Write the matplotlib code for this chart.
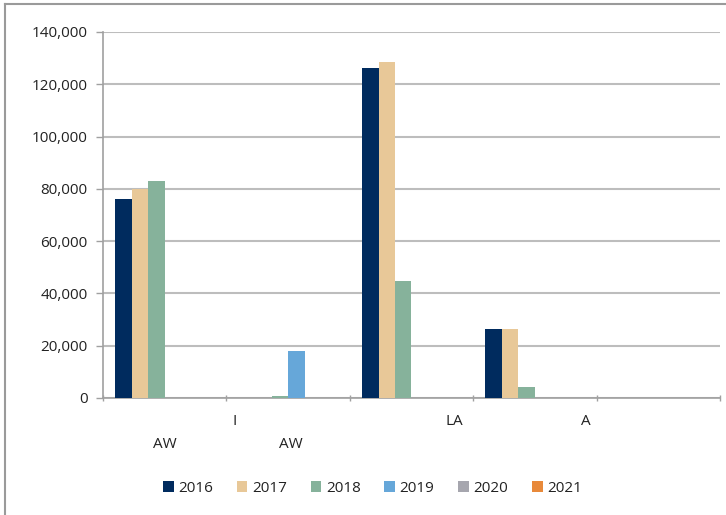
import numpy as np
import matplotlib
matplotlib.use("Agg")
import matplotlib.pyplot as plt
from matplotlib.lines import Line2D
from matplotlib.ticker import FuncFormatter

plt.rcParams['font.family'] = ['Open Sans', 'DejaVu Sans']

# data
years = ['2016', '2017', '2018', '2019', '2020', '2021']
n_cats = 5
v2016 = [76200, 0, 126100, 26300, 0]
v2017 = [80000, 0, 128600, 26300, 0]
v2018 = [83000, 800, 44800, 4100, 0]
v2019 = [0, 18000, 0, 0, 0]
v2020 = [0, 0, 0, 0, 0]
v2021 = [0, 0, 0, 0, 0]
series = [v2016, v2017, v2018, v2019, v2020, v2021]
colors = ['#002B5E', '#E8C898', '#86B29B', '#66A7D9', '#A6A6AE', '#E8893A']
# visible bits of the category labels
frag_text = ['AW', 'I', 'AW', 'LA', 'A']
frag_cat = [0, 1, 1, 2, 3]
frag_dx = [0.0, -0.43, 0.02, 0.35, 0.41]
frag_row = [1, 0, 1, 0, 0]

fig = plt.figure(figsize=(7.26, 5.15), dpi=100)
ax = fig.add_axes([0.1419, 0.2272, 0.9917 - 0.1419, 0.9379 - 0.2272])

x = np.arange(n_cats)
w = 0.1337
for k, vals in enumerate(series):
    ax.bar(x + (k - 2.5) * w, vals, width=w, color=colors[k], label=years[k], zorder=3)

ax.set_xlim(-0.5, n_cats - 0.5)
ax.set_ylim(0, 140000)
ax.set_yticks(np.arange(0, 140001, 20000))
ax.yaxis.set_major_formatter(FuncFormatter(lambda v, p: '{:,.0f}'.format(v)))
ax.grid(axis='y', color='#BDBDBD', linewidth=1.5, zorder=0)
ax.tick_params(axis='y', length=5, width=1, color='#A0A0A0', labelsize=11, pad=6,
               direction='out', labelcolor='#222222')

ax.set_xticks(np.arange(-0.5, n_cats, 1.0))
ax.set_xticklabels([])
ax.tick_params(axis='x', length=5, width=1, color='#A0A0A0', direction='inout')

for s in ['top', 'right']:
    ax.spines[s].set_visible(False)
for s in ['left', 'bottom']:
    ax.spines[s].set_color('#A0A0A0')
    ax.spines[s].set_linewidth(1.2)

for t, c, dx, r in zip(frag_text, frag_cat, frag_dx, frag_row):
    ax.text(c + dx, -0.065 - 0.063 * r, t, transform=ax.get_xaxis_transform(),
            ha='center', va='center', fontsize=11, color='#222222')

leg = ax.legend(loc='center', bbox_to_anchor=(0.513, 0.052), bbox_transform=fig.transFigure,
                ncol=6, frameon=False, fontsize=11, handlelength=0.7, handleheight=0.7,
                handletextpad=0.3, columnspacing=1.55)
for t in leg.get_texts():
    t.set_color('#222222')

# chart frame (left and top edges visible)
fig.add_artist(Line2D([0.007, 0.007], [0, 0.993], color='#9A9A9A', linewidth=1.5))
fig.add_artist(Line2D([0.007, 1.0], [0.993, 0.993], color='#9A9A9A', linewidth=1.5))

fig.savefig('out.png', dpi=100)
